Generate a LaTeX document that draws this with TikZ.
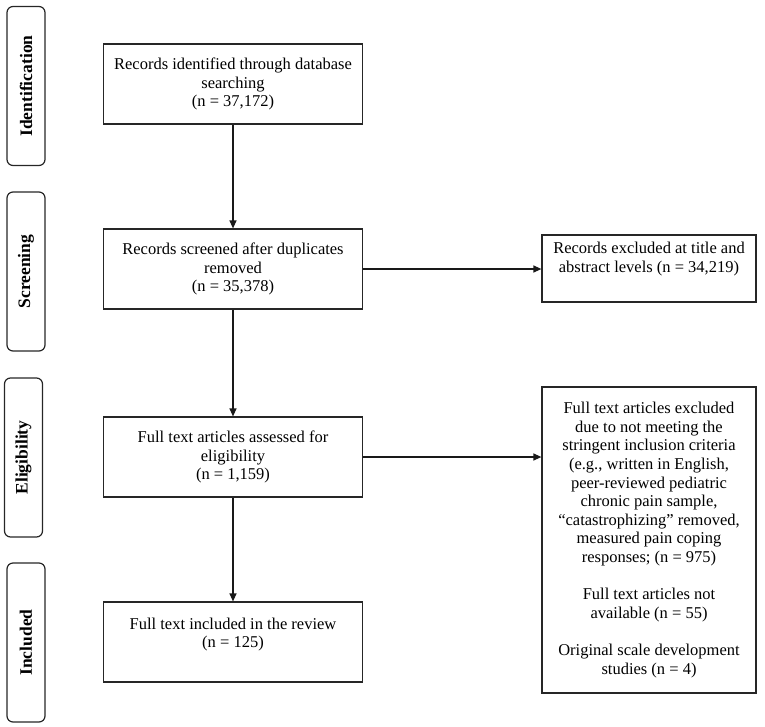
\documentclass[tikz,border=0pt]{standalone}
\usepackage{fontspec}
\setmainfont{Liberation Serif}
\usetikzlibrary{arrows.meta}
\begin{document}
\begin{tikzpicture}[x=1pt,y=-1pt,
  box/.style={draw=black!85,line width=1.2pt,align=center,inner sep=2pt,
    font=\fontsize{16.5}{18.6}\selectfont},
  stage/.style={draw=black!85,line width=1.2pt,rounded corners=6pt,
    minimum width=38pt,minimum height=159pt,inner sep=0pt},
  stagetext/.style={rotate=90,font=\fontsize{17.5}{19}\selectfont\bfseries},
  arr/.style={draw=black!90,line width=1.2pt,-{Triangle[length=8pt,width=7pt]}}]
\useasboundingbox (0,0) rectangle (765,726);
% stage labels
\node[stage] (s1) at (26,86) {};
\node[stagetext] (t1) at (s1.center) {Identification};
\node[stage] (s2) at (26,271.5) {};
\node[stagetext] (t2) at (s2.center) {Screening};
\node[stage] (s3) at (23.5,457.5) {};
\node[stagetext] (t3) at (s3.center) {Eligibility};
\node[stage] (s4) at (26,642.5) {};
\node[stagetext] (t4) at (s4.center) {Included};
% main boxes
\node[box,minimum width=259pt,minimum height=80pt] (b1) at (233,84)
  {Records identified through database\\searching\\(n = 37,172)};
\node[box,minimum width=259pt,minimum height=80pt] (b2) at (233,269)
  {Records screened after duplicates\\removed\\(n = 35,378)};
\node[box,minimum width=259pt,minimum height=80pt] (b3) at (233,457)
  {Full text articles assessed for\\eligibility\\(n = 1,159)};
\node[box,minimum width=259pt,minimum height=80pt] (b4) at (233,642)
  {Full text included in the review\\(n = 125)\\\mbox{}};
% right boxes
\node[box,minimum width=214pt,minimum height=67pt] (r1) at (649,268.5)
  {Records excluded at title and\\abstract levels (n = 34,219)\\[4pt]};
\node[box,minimum width=214pt,minimum height=306pt] (r2) at (649,540)
  {Full text articles excluded\\due to not meeting the\\stringent inclusion criteria\\(e.g., written in English,\\peer-reviewed pediatric\\chronic pain sample,\\“catastrophizing” removed,\\measured pain coping\\responses; (n = 975)\\[18.6pt]Full text articles not\\available (n = 55)\\[18.6pt]Original scale development\\studies (n = 4)};
% connectors
\draw[arr] (b1) -- (b2);
\draw[arr] (b2) -- (b3);
\draw[arr] (b3) -- (b4);
\draw[arr] (b2.east) -- (b2.east -| r1.west);
\draw[arr] (b3.east) -- (b3.east -| r2.west);
\end{tikzpicture}
\end{document}
